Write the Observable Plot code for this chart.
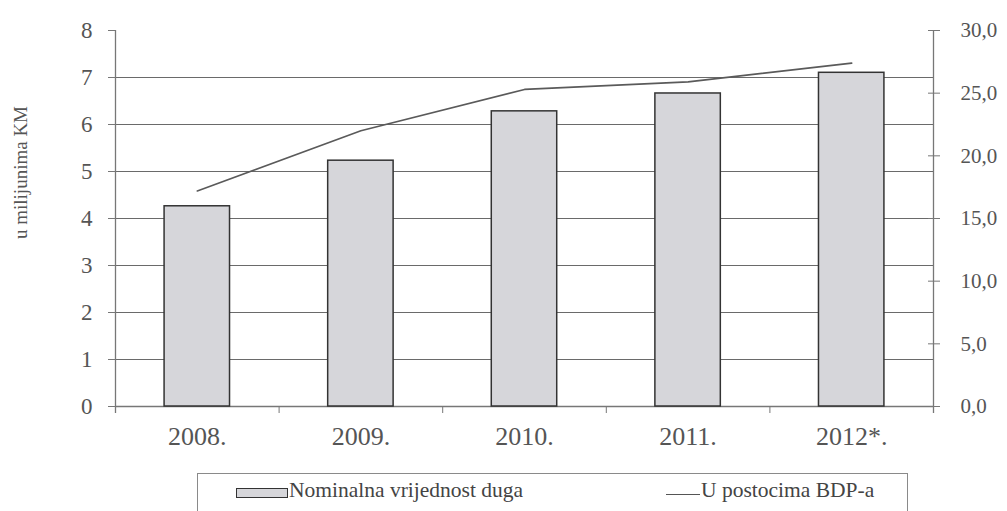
<!DOCTYPE html>
<html>
<head>
<meta charset="utf-8">
<script src="https://cdn.jsdelivr.net/npm/d3@7"></script>
<script src="https://cdn.jsdelivr.net/npm/@observablehq/plot@0.6"></script>
<style>
  body { margin: 0; background: #fff; font-family: "Liberation Serif", serif; }
  #wrap { position: relative; width: 1007px; height: 511px; overflow: hidden; }
  #legend {
    position: absolute; left: 197px; top: 473px; width: 711px; height: 44px;
    border: 1px solid #8a8a8a; box-sizing: border-box; font-size: 21.5px; color: #444;
  }
  .sw-bar { position: absolute; left: 38px; top: 14px; width: 52px; height: 10px;
    background: #d6d6da; border: 1.5px solid #333; box-sizing: border-box; }
  .lbl1 { position: absolute; left: 91px; top: 4px; white-space: nowrap; }
  .sw-line { position: absolute; left: 468px; top: 20px; width: 34px; height: 0; border-top: 1.5px solid #555; }
  .lbl2 { position: absolute; left: 503px; top: 4px; white-space: nowrap; }
  #chart svg text { font-family: "Liberation Serif", serif; }
  #chart svg { overflow: visible; }
</style>
</head>
<body>
<div id="wrap">
  <div id="chart"></div>
  <div id="legend">
    <div class="sw-bar"></div><div class="lbl1">Nominalna vrijednost duga</div>
    <div class="sw-line"></div><div class="lbl2">U postocima BDP-a</div>
  </div>
</div>
<script>
const years = ["2008.", "2009.", "2010.", "2011.", "2012*."];
const debtValues = [4.26, 5.23, 6.28, 6.66, 7.10];      // u milijunima KM
const gdpPercent = [17.2, 22.0, 25.3, 25.9, 27.4];      // % BDP-a
const leftTicks = [0, 1, 2, 3, 4, 5, 6, 7, 8];
const gridTicks = [1, 2, 3, 4, 5, 6, 7];
const rightTicks = [0, 5, 10, 15, 20, 25, 30];
const yLabel = "u milijunima KM";

const LEFT_MAX = 8, RIGHT_MAX = 30;
const toLeft = v => v * LEFT_MAX / RIGHT_MAX;

const data = years.map((y, i) => ({year: y, i, debt: debtValues[i], pct: gdpPercent[i]}));
const boundaries = d3.range(years.length + 1);

const ink = "#555";
const font = "'Liberation Serif', serif";

const chart = Plot.plot({
  width: 1007,
  height: 472,
  marginLeft: 115,
  marginRight: 74,
  marginTop: 30,
  marginBottom: 66,
  style: {fontFamily: font, fontSize: "22px", background: "transparent", color: ink},
  x: {type: "linear", domain: [0, years.length], axis: null},
  y: {domain: [0, LEFT_MAX], axis: null},
  marks: [
    // gridlines
    Plot.ruleY(gridTicks, {stroke: "#6a6a6a", strokeWidth: 1.2}),
    // axis lines
    Plot.ruleX([0, years.length], {y1: -0.15, y2: LEFT_MAX, stroke: "#777", strokeWidth: 1.3}),
    Plot.ruleY([0], {stroke: "#777", strokeWidth: 1.3}),
    // bars
    Plot.rectY(data, {x1: d => d.i + 0.3, x2: d => d.i + 0.7, y: "debt",
      fill: "#d6d6da", stroke: "#333", strokeWidth: 1.5}),
    // line
    Plot.line(data, {x: d => d.i + 0.5, y: d => toLeft(d.pct), stroke: "#5a5a5a", strokeWidth: 1.6}),
    // left axis
    Plot.axisY({anchor: "left", ticks: leftTicks, tickSize: 7, tickPadding: 16,
      fontSize: 23, stroke: "#777", fill: ink, label: null, tickFormat: d => String(d)}),
    // right axis (percent)
    Plot.axisY({anchor: "right", ticks: rightTicks.map(toLeft), tickSize: 12, dx: -6, tickPadding: 21,
      fontSize: 21, stroke: "#777", fill: ink, label: null,
      tickFormat: v => (v * RIGHT_MAX / LEFT_MAX).toFixed(1).replace(".", ",")}),
    // x ticks at boundaries
    Plot.axisX({ticks: boundaries, tickSize: 7, tickFormat: () => "", stroke: "#777", label: null}),
    // x category labels
    Plot.axisX({ticks: years.map((_, i) => i + 0.5), tickSize: 0, tickPadding: 20, fontSize: 26,
      fill: ink, label: null, tickFormat: v => years[Math.round(v - 0.5)]}),
    // y label
    Plot.text([yLabel], {frameAnchor: "left", textAnchor: "middle", rotate: -90, dx: -95, dy: -46,
      fontSize: 19, fill: ink})
  ]
});
document.getElementById("chart").appendChild(chart);
</script>
</body>
</html>
